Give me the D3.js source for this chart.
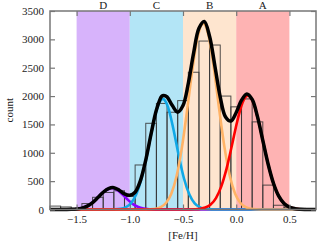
<!DOCTYPE html>
<html>
<head>
<meta charset="utf-8">
<script src="https://cdn.jsdelivr.net/npm/d3@7"></script>
<style>
  body { margin: 0; background: #fff; }
  text { font-family: "Liberation Serif", "DejaVu Serif", serif; font-size: 11px; fill: #222; }
</style>
</head>
<body>
<svg width="334" height="243"></svg>
<script>
// population bands
const bandNames = ["D", "C", "B", "A"];
const bandEdges = [[-1.5, -1.0], [-1.0, -0.5], [-0.5, 0.0], [0.0, 0.5]];
const bandColors = ["#d7b3fb", "#b3e5f6", "#fee5cf", "#feb3b3"];

// histogram, bin width 0.1
const binCenters = [-1.7, -1.6, -1.5, -1.4, -1.3, -1.2, -1.1, -1.0, -0.9, -0.8, -0.7, -0.6,
                    -0.5, -0.4, -0.3, -0.2, -0.1, 0.0, 0.1, 0.2, 0.3, 0.4, 0.5, 0.6];
const binCounts = [60, 45, 20, 105, 215, 300, 330, 230, 785, 1520, 1870, 1715,
                   1920, 2420, 2970, 2900, 2000, 1810, 1950, 1545, 430, 75, 40, 20];

// fitted components [feh, count]
const compD = [[-1.75,0],[-1.62,0.3],[-1.57,1.5],[-1.52,5.4],[-1.47,17],[-1.42,43],[-1.37,95],[-1.32,174],
  [-1.27,269],[-1.22,348],[-1.17,380],[-1.12,348],[-1.07,269],[-1.02,174],[-0.97,95],[-0.92,43],
  [-0.87,17],[-0.82,5.4],[-0.77,1.5],[-0.72,0.3],[0.75,0]];
const compC = [[-1.75,0],[-1.19,0.7],[-1.14,3],[-1.09,12],[-1.04,39],[-0.99,109],[-0.94,264],[-0.89,542],
  [-0.84,949],[-0.79,1416],[-0.74,1800],[-0.69,1950],[-0.64,1800],[-0.59,1416],[-0.54,949],[-0.49,542],
  [-0.44,264],[-0.39,109],[-0.34,39],[-0.29,12],[-0.24,3],[-0.19,0.7],[0.75,0]];
const compB = [[-1.75,0],[-0.86,0.8],[-0.81,3.4],[-0.76,13],[-0.71,41],[-0.66,114],[-0.61,278],[-0.56,590],
  [-0.51,1095],[-0.46,1769],[-0.41,2493],[-0.36,3063],[-0.31,3280],[-0.26,3063],[-0.21,2493],[-0.16,1769],
  [-0.11,1095],[-0.06,590],[-0.01,278],[0.04,114],[0.09,41],[0.14,13],[0.19,3.4],[0.24,0.8],[0.75,0]];
const compA = [[-1.75,0],[-0.44,0.9],[-0.39,3.4],[-0.34,11.5],[-0.29,34],[-0.24,88],[-0.19,202],[-0.14,408],
  [-0.09,725],[-0.04,1132],[0.01,1557],[0.06,1886],[0.11,2010],[0.16,1886],[0.21,1557],[0.26,1132],
  [0.31,725],[0.36,408],[0.41,202],[0.46,88],[0.51,34],[0.56,11.5],[0.61,3.4],[0.66,0.9],[0.75,0]];
const compColors = ["#8a00ff", "#10a8e6", "#ffb366", "#ff0000"];

// total fit
const totalX = [-1.75,-1.7,-1.65,-1.6,-1.55,-1.5,-1.45,-1.4,-1.35,-1.3,-1.25,-1.2,-1.15,-1.1,-1.05,-1.0,
  -0.95,-0.9,-0.85,-0.8,-0.75,-0.7,-0.68,-0.65,-0.6,-0.55,-0.5,-0.45,-0.4,-0.35,-0.3,-0.25,-0.2,-0.15,-0.1,
  -0.05,0.0,0.05,0.1,0.15,0.2,0.25,0.3,0.35,0.4,0.45,0.5,0.55,0.6,0.65,0.7,0.75];
const totalY = [0,0,0.1,0.6,2.5,8.7,25,60,123,211,304,369,385,340,275,250,
  305,510,872,1332,1755,1995,2010,1985,1832,1716,1832,2226,2761,3196,3314,3050,2527,1983,1631,
  1559,1711,1928,2038,1940,1638,1219,800,463,235,105,41,14,4.4,1.2,0.3,0];

const xTicks = [-1.5, -1.0, -0.5, 0.0, 0.5];
const yTicks = [0, 500, 1000, 1500, 2000, 2500, 3000, 3500];

const margin = {top: 11, right: 18, bottom: 33.5, left: 50};
const svg = d3.select("svg");
const W = 334, H = 243;
const x = d3.scaleLinear().domain([-1.75, 0.75]).range([margin.left, W - margin.right]);
const y = d3.scaleLinear().domain([0, 3500]).range([H - margin.bottom, margin.top]);

const frameColor = "#777";

// bands
svg.append("g").selectAll("rect")
  .data(bandEdges)
  .enter().append("rect")
  .attr("x", d => x(d[0]))
  .attr("y", y(3500))
  .attr("width", d => x(d[1]) - x(d[0]))
  .attr("height", y(0) - y(3500))
  .attr("fill", (d, i) => bandColors[i]);

// histogram outlines
svg.append("g").selectAll("rect")
  .data(binCenters)
  .enter().append("rect")
  .attr("x", d => x(d - 0.05))
  .attr("y", (d, i) => y(binCounts[i]))
  .attr("width", d => x(d + 0.05) - x(d - 0.05))
  .attr("height", (d, i) => y(0) - y(binCounts[i]))
  .attr("fill", "none")
  .attr("stroke", "#333")
  .attr("stroke-opacity", 0.85)
  .attr("stroke-width", 1);

const line = d3.line()
  .x(d => x(d[0]))
  .y(d => y(d[1]))
  .curve(d3.curveMonotoneX);

[compD, compC, compB, compA].forEach((c, i) => {
  svg.append("path")
    .datum(c)
    .attr("d", line)
    .attr("fill", "none")
    .attr("stroke", compColors[i])
    .attr("stroke-width", 2.6);
});

svg.append("path")
  .datum(totalX.map((v, i) => [v, totalY[i]]))
  .attr("d", line.curve(d3.curveCatmullRom.alpha(0.5)))
  .attr("fill", "none")
  .attr("stroke", "#000")
  .attr("stroke-width", 3.5);

// frame
svg.append("rect")
  .attr("x", x(-1.75)).attr("y", y(3500))
  .attr("width", x(0.75) - x(-1.75)).attr("height", y(0) - y(3500))
  .attr("fill", "none").attr("stroke", frameColor).attr("stroke-width", 1.5);

// axes with inward ticks
const gx = svg.append("g")
  .attr("transform", `translate(0,${y(0)})`)
  .call(d3.axisBottom(x).tickValues(xTicks).tickSize(-5).tickPadding(6)
    .tickFormat(d => d3.format(".1f")(d).replace("-", "\u2212")));
const gxTop = svg.append("g")
  .attr("transform", `translate(0,${y(3500)})`)
  .call(d3.axisTop(x).tickValues(xTicks).tickSize(-5).tickFormat(""));
const gy = svg.append("g")
  .attr("transform", `translate(${x(-1.75)},0)`)
  .call(d3.axisLeft(y).tickValues(yTicks).tickSize(-5).tickPadding(6).tickFormat(d3.format("d")));
const gyR = svg.append("g")
  .attr("transform", `translate(${x(0.75)},0)`)
  .call(d3.axisRight(y).tickValues(yTicks).tickSize(-5).tickFormat(""));

[gx, gxTop, gy, gyR].forEach(g => {
  g.select(".domain").remove();
  g.selectAll(".tick line").attr("stroke", frameColor).attr("stroke-width", 1.2);
});

// band letters
svg.append("g").selectAll("text")
  .data(bandNames)
  .enter().append("text")
  .attr("x", (d, i) => x((bandEdges[i][0] + bandEdges[i][1]) / 2))
  .attr("y", 8.5)
  .attr("text-anchor", "middle")
  .text(d => d);

svg.append("text")
  .attr("x", (x(-1.75) + x(0.75)) / 2)
  .attr("y", 239)
  .attr("text-anchor", "middle")
  .text("[Fe/H]");

svg.append("text")
  .attr("transform", `translate(13,${(y(0) + y(3500)) / 2}) rotate(-90)`)
  .attr("text-anchor", "middle")
  .text("count");
</script>
</body>
</html>
